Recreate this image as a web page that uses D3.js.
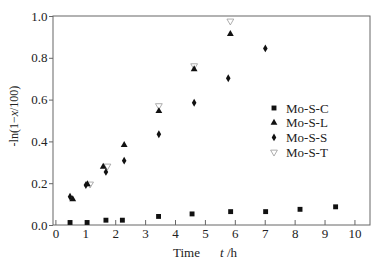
<!DOCTYPE html>
<html><head><meta charset="utf-8">
<script src="https://cdn.jsdelivr.net/npm/d3@7"></script>
<style>body{margin:0;background:#fff}svg{display:block}text{font-family:"Liberation Serif","Times New Roman",Times,"DejaVu Serif",serif;fill:#222}</style>
</head><body><div id="c"></div>
<script>
const seriesNames = ["Mo-S-C","Mo-S-L","Mo-S-S","Mo-S-T"];
const timeC = [0.49,1.06,1.69,2.24,3.45,4.57,5.86,7.03,8.18,9.37];
const valC  = [0.012,0.012,0.023,0.023,0.041,0.053,0.064,0.064,0.075,0.087];
const timeL = [0.58,1.07,1.60,2.30,3.46,4.64,5.85];
const valL  = [0.123,0.195,0.279,0.383,0.545,0.745,0.914];
const timeS = [0.49,1.02,1.69,2.30,3.46,4.64,5.78,7.02];
const valS  = [0.135,0.191,0.254,0.308,0.434,0.585,0.702,0.845];
const timeT = [1.16,1.74,3.46,4.64,5.85];
const valT  = [0.196,0.282,0.571,0.762,0.976];
const xTicks = [0,1,2,3,4,5,6,7,8,9,10];
const yTicks = [0,0.2,0.4,0.6,0.8,1.0];

const W=381,H=262;
const FONT='"Liberation Serif","Times New Roman",Times,serif';
const svg=d3.select("#c").append("svg").attr("width",W).attr("height",H);
const x=d3.scaleLinear().domain([-0.08,10.52]).range([53,370]);
const y=d3.scaleLinear().domain([0,1]).range([225,16]);
const axisCol="#666";

// frame
svg.append("rect").attr("x",53).attr("y",16).attr("width",317).attr("height",209)
  .attr("fill","none").attr("stroke",axisCol).attr("stroke-width",1);

// x axis (ticks inward)
const gx=svg.append("g").attr("transform","translate(0,225)");
gx.call(d3.axisBottom(x).tickValues(d3.range(0,10.51,0.5)).tickSize(-3).tickFormat(""))
  .call(g=>g.select(".domain").remove());
gx.call(d3.axisBottom(x).tickValues(xTicks).tickSize(-5).tickPadding(4).tickFormat(d3.format("d")))
  .call(g=>g.select(".domain").remove());
gx.attr("font-family",FONT);
gx.selectAll("line").attr("stroke",axisCol);
gx.selectAll("text").attr("font-size",13).attr("fill","#222").attr("font-family",FONT);

// y axis (ticks outward)
const gy=svg.append("g").attr("transform","translate(53,0)");
gy.call(d3.axisLeft(y).tickValues(d3.range(0,1.001,0.1)).tickSize(3).tickFormat(""))
  .call(g=>g.select(".domain").remove());
gy.call(d3.axisLeft(y).tickValues(yTicks).tickSize(4).tickPadding(1.5).tickFormat(d3.format(".1f")))
  .call(g=>g.select(".domain").remove());
gy.attr("font-family",FONT);
gy.selectAll("line").attr("stroke",axisCol);
gy.selectAll("text").attr("font-size",13).attr("fill","#222").attr("font-family",FONT);

// axis titles
const xt=svg.append("text").attr("x",173).attr("y",257).attr("font-size",13).attr("font-family",FONT);
xt.append("tspan").text("Time");
xt.append("tspan").attr("x",220).attr("font-style","italic").text("t");
xt.append("tspan").text(" /h");
const yt=svg.append("text").attr("transform","translate(18,116) rotate(-90)").attr("text-anchor","middle").attr("font-size",12).attr("font-family",FONT);
yt.append("tspan").text("-ln(1\u2212");
yt.append("tspan").attr("font-style","italic").text("x");
yt.append("tspan").text("/100)");

// symbols
const sq=d3.symbol().type(d3.symbolSquare).size(24);
const tri=d3.symbol().type(d3.symbolTriangle).size(20);
const dia=d3.symbol().type(d3.symbolDiamond).size(18);
const styles=[
  {path:sq(),fill:"#111",stroke:"none",rot:0},
  {path:tri(),fill:"#111",stroke:"none",rot:0},
  {path:dia(),fill:"#111",stroke:"none",rot:0},
  {path:tri(),fill:"#fff",stroke:"#999",rot:180}
];
const series=[[timeC,valC],[timeL,valL],[timeS,valS],[timeT,valT]];
[3,0,1,2].forEach(i=>{
  const [t,v]=series[i]; const s=styles[i];
  svg.append("g").selectAll("path").data(t.map((d,j)=>[d,v[j]])).join("path")
    .attr("d",s.path)
    .attr("transform",d=>`translate(${x(d[0])},${y(d[1])}) rotate(${s.rot})`)
    .attr("fill",s.fill).attr("stroke",s.stroke).attr("stroke-width",0.8);
});

// legend
const lg=svg.append("g");
seriesNames.forEach((n,i)=>{
  const yy=108+i*14.7; const s=styles[i];
  lg.append("path").attr("d",s.path).attr("transform",`translate(274,${yy}) rotate(${s.rot})`)
    .attr("fill",s.fill).attr("stroke",s.stroke).attr("stroke-width",0.8);
  lg.append("text").attr("x",286).attr("y",yy+4.5).attr("font-size",13).attr("font-family",FONT).text(n);
});
</script></body></html>
